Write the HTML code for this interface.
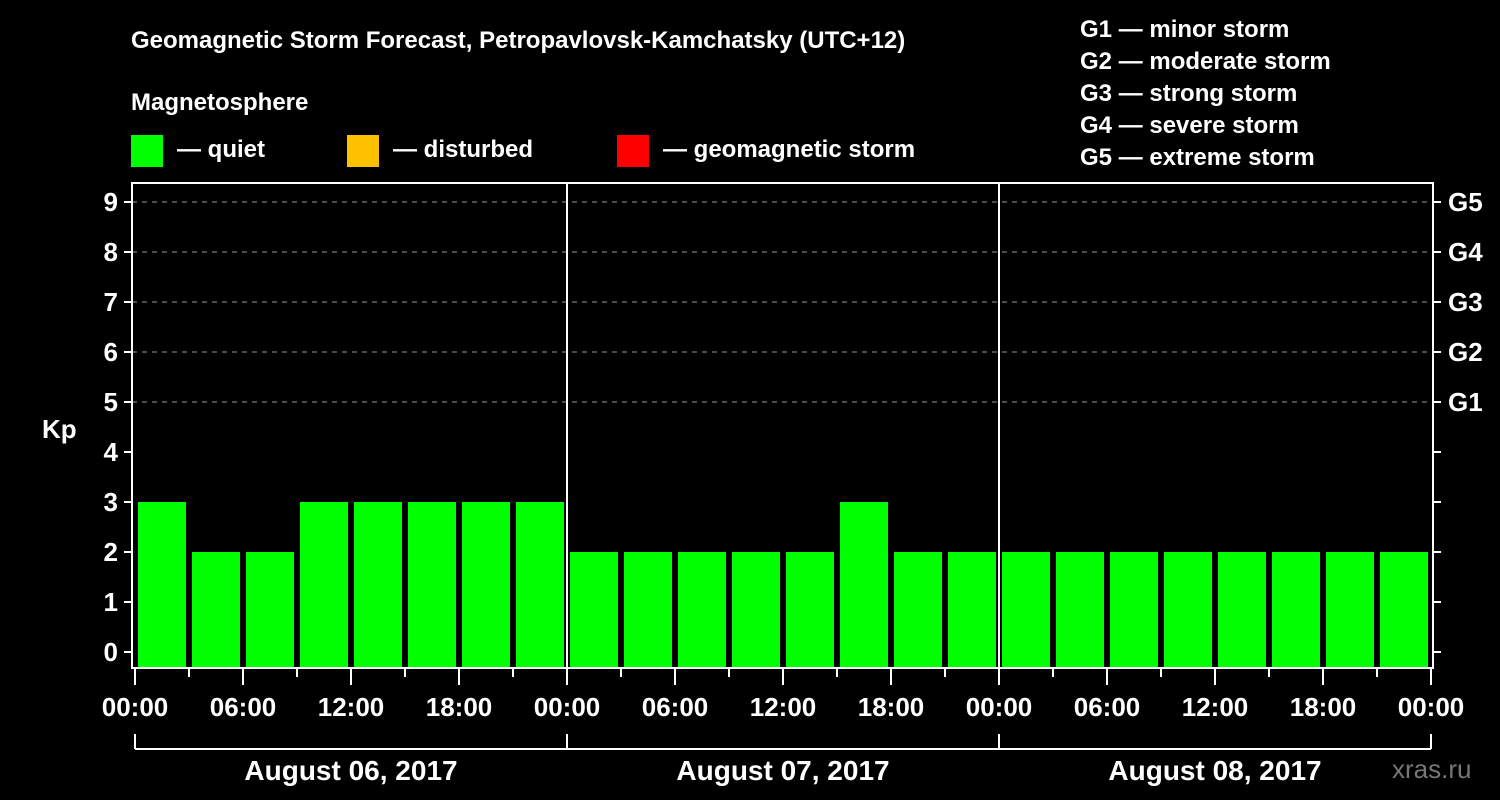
<!DOCTYPE html>
<html><head><meta charset="utf-8"><style>
html,body{margin:0;padding:0;background:#000;}
svg{display:block;font-family:"Liberation Sans",Arial,sans-serif;font-weight:bold;}
</style></head><body>
<svg id="c" width="1500" height="800" viewBox="0 0 1500 800">
<rect width="1500" height="800" fill="#000"/>
<text x="131" y="48" fill="#fff" font-size="24">Geomagnetic Storm Forecast, Petropavlovsk-Kamchatsky (UTC+12)</text>
<text x="131" y="110" fill="#fff" font-size="24">Magnetosphere</text>
<g><rect x="131" y="135" width="32" height="32" fill="#00ff00"/><text x="177" y="157" fill="#fff" font-size="24">— quiet</text></g>
<g><rect x="347" y="135" width="32" height="32" fill="#ffc000"/><text x="393" y="157" fill="#fff" font-size="24">— disturbed</text></g>
<g><rect x="617" y="135" width="32" height="32" fill="#ff0000"/><text x="663" y="157" fill="#fff" font-size="24">— geomagnetic storm</text></g>
<g fill="#fff" font-size="24">
<text x="1080" y="37">G1 — minor storm</text>
<text x="1080" y="69">G2 — moderate storm</text>
<text x="1080" y="101">G3 — strong storm</text>
<text x="1080" y="133">G4 — severe storm</text>
<text x="1080" y="165">G5 — extreme storm</text>
</g>
<text x="42" y="438" fill="#fff" font-size="26">Kp</text>
<text x="1392" y="778" fill="#777" font-size="26" font-weight="normal">xras.ru</text>
<g id="plot"></g>
</svg>
<script>
const kpValues = [3,2,2,3,3,3,3,3, 2,2,2,2,2,3,2,2, 2,2,2,2,2,2,2,2];
const dayLabels = ["August 06, 2017","August 07, 2017","August 08, 2017"];
const hourLabels = ["00:00","06:00","12:00","18:00"];
const yTicks = [0,1,2,3,4,5,6,7,8,9];
const gLabels = ["G1","G2","G3","G4","G5"];
const gLevels = [5,6,7,8,9];

const NS="http://www.w3.org/2000/svg";
const g=document.getElementById('plot');
const L=132,R=1433,T=183,B=668,X0=135,X1=1431;
const nSlots=kpValues.length;
const xs=i=>X0+(X1-X0)*i/nSlots;
const ys=v=>652-50*v;
function mk(t,a){const e=document.createElementNS(NS,t);for(const k in a)e.setAttribute(k,a[k]);g.appendChild(e);return e;}
// grid
gLevels.forEach((v,i)=>{
 const l=mk('line',{x1:L,x2:R,y1:ys(v),y2:ys(v),stroke:'#999','stroke-dasharray':'5,5','stroke-width':1});
 
 
 const t=mk('text',{x:1448,y:ys(v)+9,fill:'#fff','font-size':26});
 t.textContent=gLabels[i];
 
 
});
// bars
kpValues.forEach((v,i)=>{
 const color=v>=5?'#ff0000':(v>=4?'#ffc000':'#00ff00');
 const r=mk('rect',{x:xs(i)+3,y:ys(v),width:(X1-X0)/nSlots-6,height:B-ys(v),fill:color});
 
 
});
// day separators
const nDays=dayLabels.length;
for(let d=1;d<nDays;d++){
 const x=X0+(X1-X0)*d/nDays;
 const l=mk('line',{x1:x,x2:x,y1:T,y2:B,stroke:'#fff','stroke-width':2});
 
 
}
// frame
const fr=mk('rect',{x:L,y:T,width:R-L,height:B-T,fill:'none',stroke:'#fff','stroke-width':2});


// y ticks
yTicks.forEach(v=>{
 mk('line',{x1:L-8,x2:L,y1:ys(v),y2:ys(v),stroke:'#fff','stroke-width':2});
 mk('line',{x1:R,x2:R+8,y1:ys(v),y2:ys(v),stroke:'#fff','stroke-width':2});
 const t=mk('text',{x:L-14,y:ys(v)+9,fill:'#fff','font-size':26,'text-anchor':'end'});
 t.textContent=v;
 
 
});
// x ticks
for(let i=0;i<=nSlots;i++){
 const x=xs(i);const major=i%2===0;
 mk('line',{x1:x,x2:x,y1:B,y2:B+(major?17:9),stroke:'#fff','stroke-width':2});
 if(major){
  const lbl=i===nSlots?hourLabels[0]:hourLabels[(i/2)%hourLabels.length];
  const t=mk('text',{x:x,y:716,fill:'#fff','font-size':26,'text-anchor':'middle'});
  t.textContent=lbl;
  
  
 }
}
// day brackets
mk('line',{x1:X0,x2:X1,y1:749,y2:749,stroke:'#fff','stroke-width':2});
for(let d=0;d<=nDays;d++){
 const x=X0+(X1-X0)*d/nDays;
 mk('line',{x1:x,x2:x,y1:734,y2:749,stroke:'#fff','stroke-width':2});
}
dayLabels.forEach((s,d)=>{
 const x=X0+(X1-X0)*(d+0.5)/nDays;
 const t=mk('text',{x:x,y:780,fill:'#fff','font-size':28,'text-anchor':'middle'});
 t.textContent=s;
 
 
});
</script>
</body></html>
